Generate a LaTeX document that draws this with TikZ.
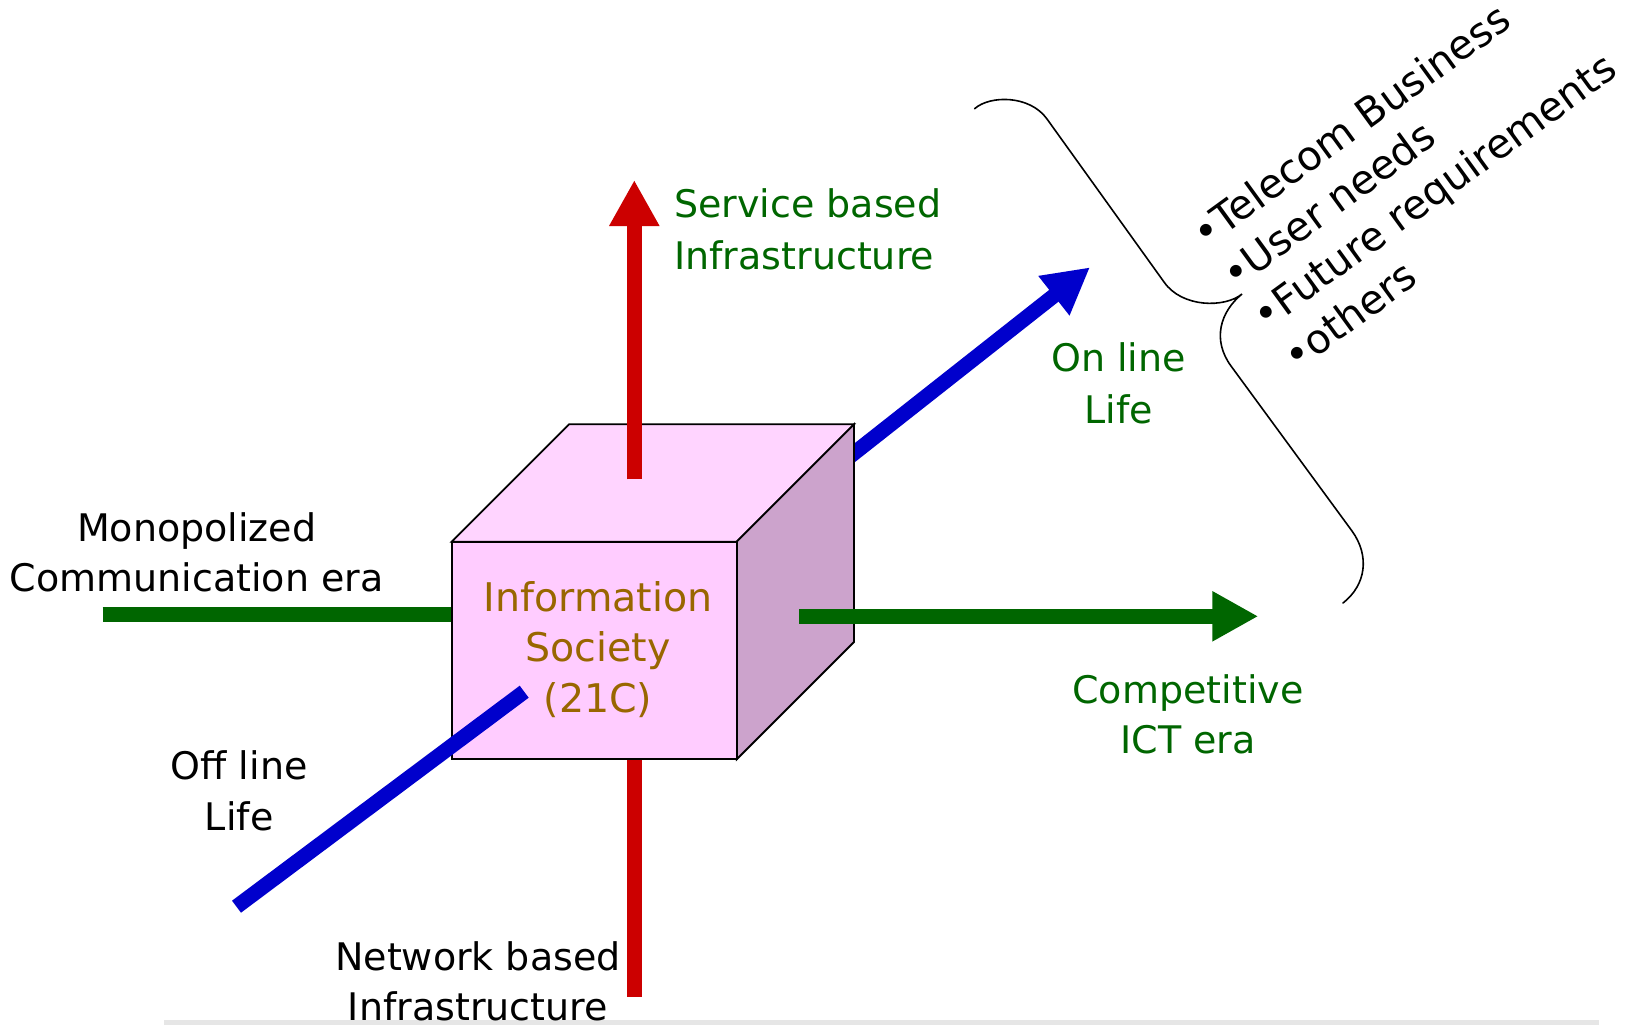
\documentclass[tikz,border=0pt]{standalone}
\usepackage{fontspec}
\setmainfont{DejaVu Sans}
\usetikzlibrary{arrows.meta}
\definecolor{arrred}{HTML}{CC0000}
\definecolor{arrblue}{HTML}{0000CC}
\definecolor{arrgreen}{HTML}{006600}
\definecolor{cubefront}{HTML}{FFCCFF}
\definecolor{cubetop}{HTML}{FFD4FF}
\definecolor{cubeside}{HTML}{CCA3CC}
\definecolor{cubetext}{HTML}{996600}
\definecolor{rulegray}{HTML}{E6E6E6}
\begin{document}
\begin{tikzpicture}[x=1pt,y=-1pt,
  lbl/.style={inner sep=0pt, anchor=base, font=\fontsize{38}{50}\selectfont},
  cubelbl/.style={lbl, text=cubetext, font=\fontsize{39.5}{50}\selectfont},
  bullet/.style={inner sep=0pt, anchor=base west, rotate=36, font=\fontsize{40.5}{51}\selectfont},
  bar/.style={line width=15pt, line cap=butt},
  tipped/.style={bar, -{Triangle[length=46pt,width=47pt]}},
  face/.style={draw=black, line width=1.8pt, line join=miter},
  brace/.style={draw=black, line width=1.6pt, line cap=round}]
\fill[white] (0,0) rectangle (1628,1025);
\useasboundingbox (0,0) rectangle (1628,1025);

% bottom rule
\fill[rulegray] (164,1019.5) rectangle (1599,1025);

% cube corners
\coordinate (FTL) at (451.7,541.7);
\coordinate (FTR) at (736.7,541.7);
\coordinate (FBR) at (736.7,759.3);
\coordinate (FBL) at (451.7,759.3);
\coordinate (BTL) at (569,424.3);
\coordinate (BTR) at (854,424.3);
\coordinate (BBR) at (854,642);

% axis end points
\coordinate (greenL) at (102.7,614.7);
\coordinate (greenLin) at (451.7,614.7);
\coordinate (redBin) at (634.3,759.3);
\coordinate (redB) at (634.3,996.7);
\coordinate (blueUin) at (800,495.8);
\coordinate (blueUtip) at (1090,267.3);
\coordinate (redTin) at (634.3,479.3);
\coordinate (redTtip) at (634.3,180);
\coordinate (greenRin) at (799,616.3);
\coordinate (greenRtip) at (1258.3,616.3);
\coordinate (blueLin) at (524.2,691.7);
\coordinate (blueL) at (236.5,906.7);

% arrows behind the cube
\draw[bar, arrgreen] (greenL) -- (greenLin);
\draw[bar, arrred] (redBin) -- (redB);
\draw[tipped, arrblue] (blueUin) -- (blueUtip);

% cube
\filldraw[face, fill=cubetop] (FTL) -- (BTL) -- (BTR) -- (FTR) -- cycle;
\filldraw[face, fill=cubeside] (FTR) -- (BTR) -- (BBR) -- (FBR) -- cycle;
\filldraw[face, fill=cubefront] (FTL) -- (FTR) -- (FBR) -- (FBL) -- cycle;

% arrows in front of the cube
\draw[tipped, arrred] (redTin) -- (redTtip);
\draw[tipped, arrgreen] (greenRin) -- (greenRtip);
\draw[bar, arrblue] (blueLin) -- (blueL);

% cube label
\node[cubelbl] (is1) at (598,611.7) {Information};
\node[cubelbl] (is2) at (598,661.7) {Society};
\node[cubelbl] (is3) at (598,712) {(21C)};

% axis labels
\node[lbl, anchor=base west, text=arrgreen] (sv1) at (674,217.7) {Service based};
\node[lbl, anchor=base west, text=arrgreen] (sv2) at (674,269.3) {Infrastructure};
\node[lbl, text=arrgreen] (on1) at (1118.6,371.7) {On line};
\node[lbl, text=arrgreen] (on2) at (1118.6,423.9) {Life};
\node[lbl, text=arrgreen] (ct1) at (1188,703.3) {Competitive};
\node[lbl, text=arrgreen] (ct2) at (1188,753.3) {ICT era};
\node[lbl] (mo1) at (196.7,541.7) {Monopolized};
\node[lbl] (mo2) at (196.7,591.7) {Communication era};
\node[lbl] (of1) at (239.2,779.3) {Off line};
\node[lbl] (of2) at (239.2,830.7) {Life};
\node[lbl] (nw1) at (478,970) {Network based};
\node[lbl] (nw2) at (478,1020) {Infrastructure};

% brace
\coordinate (brA) at (974.6,108.7);
\coordinate (brB) at (1047,119);
\coordinate (brC) at (1164,282);
\coordinate (brT) at (1242,294);
\coordinate (brD) at (1231,366);
\coordinate (brE) at (1352,531);
\coordinate (brF) at (1343,603);
\draw[brace] (brA) .. controls (990,95) and (1030,95) .. (brB) -- (brC)
  .. controls (1182,308) and (1225,308) .. (brT)
  .. controls (1220,312) and (1212,340) .. (brD) -- (brE)
  .. controls (1370,556) and (1366,585) .. (brF);

% list
\node[bullet] (li1) at (1205,249.4) {•Telecom Business};
\node[bullet] (li2) at (1235.3,290.4) {•User needs};
\node[bullet] (li3) at (1265.6,331.4) {•Future requirements};
\node[bullet] (li4) at (1295.9,372.4) {•others};
\end{tikzpicture}
\end{document}
